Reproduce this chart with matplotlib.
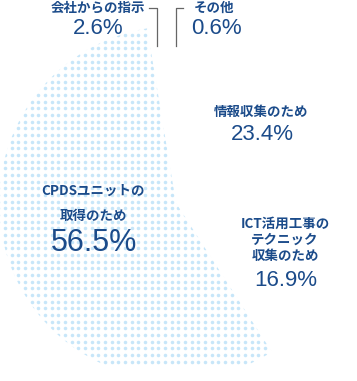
import matplotlib
matplotlib.use('Agg')
import matplotlib.pyplot as plt
import numpy as np

# ---- data (clockwise from 12 o'clock) ----
categories = ['その他', '情報収集のため', 'ICT活用工事の\nテクニック\n収集のため',
              'CPDSユニットの\n取得のため', '会社からの指示']
values = [0.6, 23.4, 16.9, 56.5, 2.6]
value_labels = ['0.6%', '23.4%', '16.9%', '56.5%', '2.6%']

W, H = 357, 381
TEXT = '#1b4b8a'
DOT = '#c7e6f9'
JP = ['Noto Sans CJK JP', 'DejaVu Sans']
NUM = ['Liberation Sans', 'DejaVu Sans']

fig = plt.figure(figsize=(W / 100, H / 100), dpi=100)
ax = fig.add_axes([0, 0, 1, 1])

center = (176, 203)
radius = 177
wedges, _ = ax.pie(values, center=center, radius=radius, startangle=270,
                   counterclock=True,
                   wedgeprops=dict(facecolor='none', edgecolor='none', linewidth=0))
ax.set_xlim(0, W)
ax.set_ylim(H, 0)
ax.set_aspect('auto')
ax.axis('off')

# dotted texture clipped to the largest slice
big = int(np.argmax(values))
step = 6.67
gx = np.arange(5 - step * 2, W + step, step)
gy = np.arange(141.7 - step * 25, 367, step)
XX, YY = np.meshgrid(gx, gy)
dots = ax.scatter(XX.ravel(), YY.ravel(), s=6.5, color=DOT, linewidths=0, zorder=1)
dots.set_clip_path(wedges[big])

# label layout: (x, first line y, line gap), (value x, value y)
lab_pos = {
    0: ((214, 8, 16), (216, 29)),
    1: ((261, 112, 16), (262, 134)),
    2: ((285, 224, 16), (286, 280)),
    3: ((93, 191, 25), (94, 243)),
    4: ((98, 8, 16), (98, 29)),
}
for i, (cat, vl) in enumerate(zip(categories, value_labels)):
    (tx, ty, gap), (vx, vy) = lab_pos[i]
    for k, line in enumerate(cat.split('\n')):
        ax.text(tx, ty + k * gap, line, ha='center', va='center', family=JP,
                fontsize=9.7, fontweight='bold', color=TEXT, zorder=3)
    fs = 22 if i == big else 16
    ax.text(vx, vy, vl, ha='center', va='center', family=NUM, fontsize=fs,
            color=TEXT, zorder=3)

# leader lines for the two small slices
ax.plot([149, 157, 157], [7.5, 7.5, 46], color='#666666', lw=0.9, zorder=2)
ax.plot([183, 176, 176], [7.5, 7.5, 46], color='#666666', lw=0.9, zorder=2)

fig.savefig('out.png', dpi=100)
